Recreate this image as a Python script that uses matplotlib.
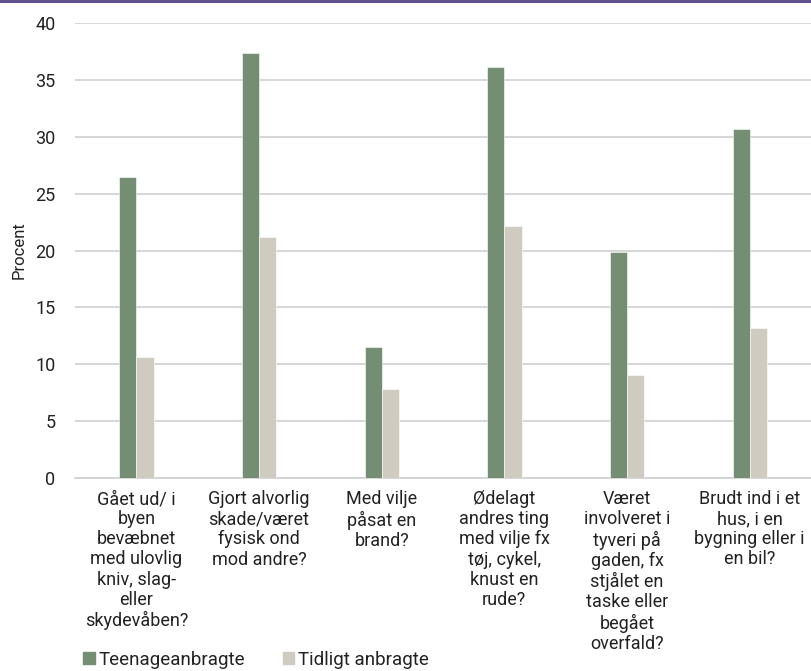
import numpy as np
import matplotlib
matplotlib.use("Agg")
import matplotlib.pyplot as plt
from matplotlib.patches import Patch

kategorier = [
    "Gået ud/ i\nbyen\nbevæbnet\nmed ulovlig\nkniv, slag-\neller\nskydevåben?",
    "Gjort alvorlig\nskade/været\nfysisk ond\nmod andre?",
    "Med vilje\npåsat en\nbrand?",
    "Ødelagt\nandres ting\nmed vilje fx\ntøj, cykel,\nknust en\nrude?",
    "Været\ninvolveret i\ntyveri på\ngaden, fx\nstjålet en\ntaske eller\nbegået\noverfald?",
    "Brudt ind i et\nhus, i en\nbygning eller i\nen bil?",
]
teenage = [26.5, 37.4, 11.5, 36.2, 19.9, 30.7]
tidligt = [10.6, 21.2, 7.8, 22.2, 9.0, 13.2]
serier = ["Teenageanbragte", "Tidligt anbragte"]

groen = "#748e73"
beige = "#cfcbc0"

plt.rcParams["font.family"] = ["Roboto", "DejaVu Sans"]

fig = plt.figure(figsize=(8.12, 6.71), dpi=100)
ax = fig.add_axes([0.0924, 0.2881, 0.9064, 0.6769])

x = np.arange(len(kategorier))
b = 0.14
ax.bar(x - b / 2, teenage, width=b, color=groen, edgecolor="white", linewidth=0.4, zorder=3)
ax.bar(x + b / 2, tidligt, width=b, color=beige, edgecolor="white", linewidth=0.4, zorder=3)

ax.set_xlim(-0.5, len(kategorier) - 0.5)
ax.set_ylim(0, 40)
ax.set_yticks(range(0, 41, 5))
ax.yaxis.grid(True, color="#d0d0d0", linewidth=1.2, zorder=0)
for s in ["top", "right", "left"]:
    ax.spines[s].set_visible(False)
ax.spines["bottom"].set_color("#d0d0d0")
ax.spines["bottom"].set_linewidth(1.2)
ax.tick_params(axis="y", length=0, labelsize=13, pad=14, labelcolor="#222222")
ax.tick_params(axis="x", length=0, pad=9)
ax.set_xticks(x)
ax.set_xticklabels(kategorier, fontsize=13, color="#222222", linespacing=1.15)
ax.set_ylabel("Procent", fontsize=12, color="#222222")
ax.yaxis.set_label_coords(-0.066, 0.5)

# lilla streg i toppen
fig.add_artist(plt.Line2D([0, 1], [0.9985, 0.9985], color="#62508a", linewidth=2.2,
                          transform=fig.transFigure))

handles = [Patch(color=groen), Patch(color=beige)]
fig.legend(handles, serier, loc="lower left", bbox_to_anchor=(0.082, -0.022),
           ncol=2, frameon=False, fontsize=13.5, handlelength=0.6, handleheight=0.6,
           handletextpad=0.2, columnspacing=2.0, labelcolor="#222222")

fig.savefig("out.png", dpi=100)
